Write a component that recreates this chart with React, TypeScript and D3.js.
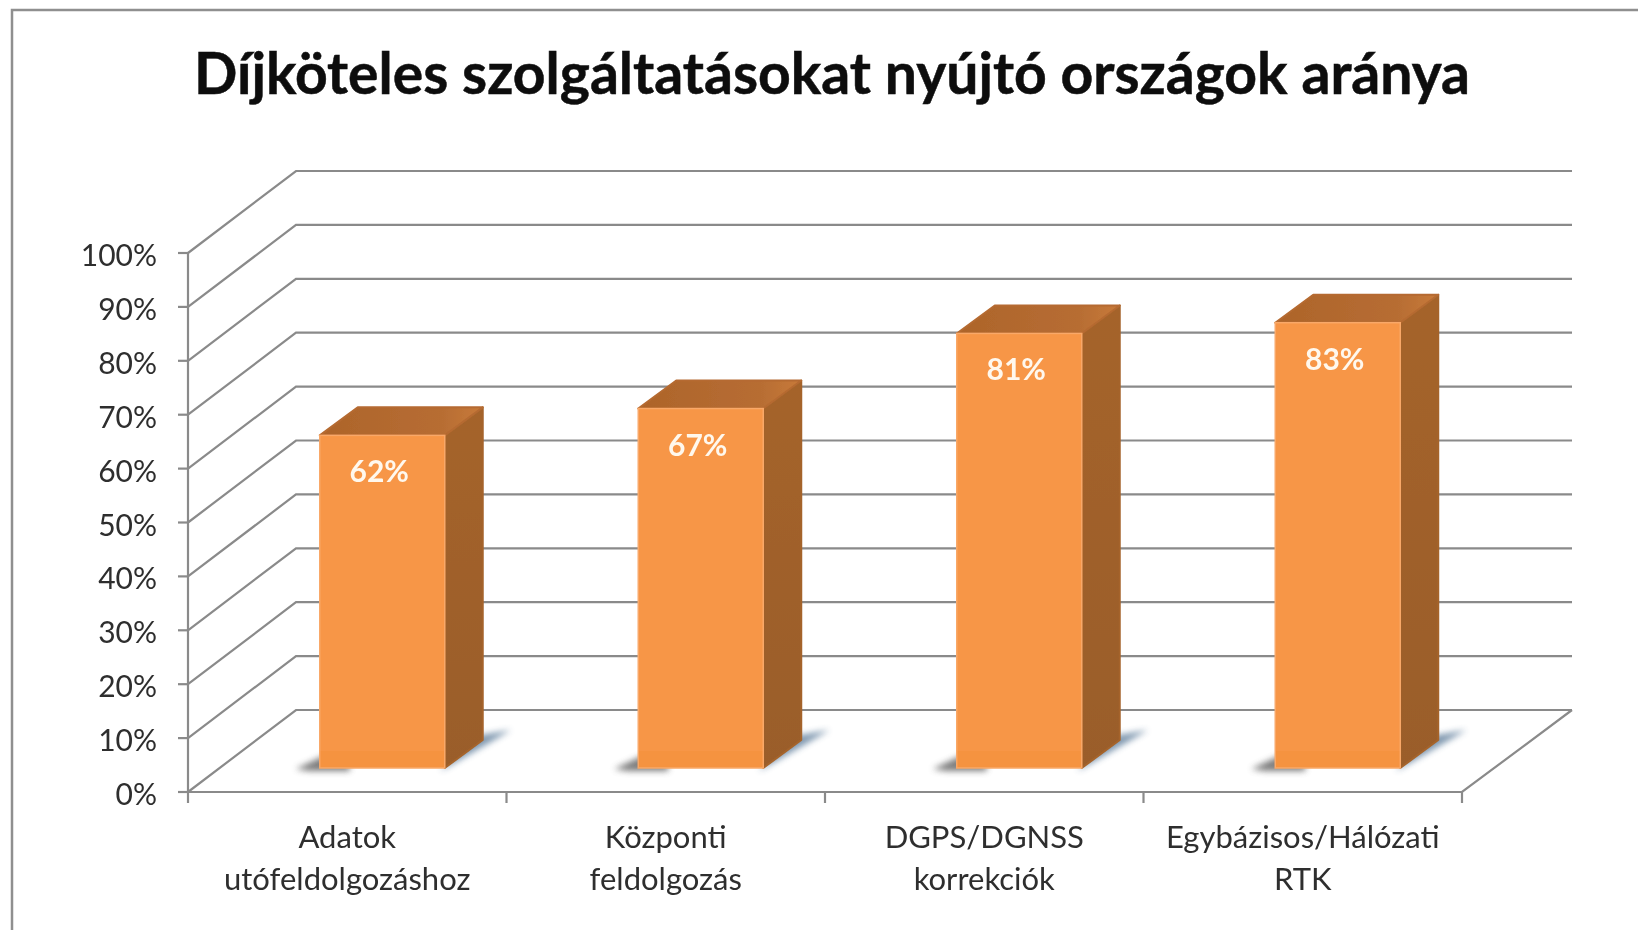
import React from "react";
import * as d3 from "d3";

const titleText = "Díjköteles szolgáltatásokat nyújtó országok aránya";
const categories = [
  ["Adatok", "utófeldolgozáshoz"],
  ["Központi", "feldolgozás"],
  ["DGPS/DGNSS", "korrekciók"],
  ["Egybázisos/Hálózati", "RTK"],
];
const values = [62, 67, 81, 83];
const ticks = [0, 10, 20, 30, 40, 50, 60, 70, 80, 90, 100];

const W = 1638, H = 930;
const depthX = 108, depthY = 82;
const y = d3.scaleLinear().domain([0, 100]).range([792, 253]);
const barY = d3.scaleLinear().domain([0, 100]).range([768, 231.5]);
const x = d3.scaleBand<number>().domain(categories.map((_, i) => i)).range([188, 1462]);
const barW = 125, barDx = 38, barDy = 28, barShift = 35;
const grid = "#8a8a8a";
const font = "Lato, Carlito, 'Open Sans', sans-serif";
const line = d3.line();

export default function App() {
  return (
    <svg width={W} height={H} style={{ position: "absolute", left: 0, top: 0, display: "block", background: "#fff" }}>
      <defs>
        <filter id="soft"><feGaussianBlur stdDeviation="0.55" /></filter>
        <filter id="shadow" filterUnits="userSpaceOnUse" x="0" y="0" width={W} height={H}><feGaussianBlur stdDeviation="3" /></filter>
        <linearGradient id="topFace" x1="0" x2="1" y1="0" y2="0">
          <stop offset="0" stopColor="#ad642a" />
          <stop offset="0.75" stopColor="#b76d33" />
          <stop offset="1" stopColor="#c87a3a" />
        </linearGradient>
        <linearGradient id="sideFace" x1="0" x2="0" y1="0" y2="1">
          <stop offset="0" stopColor="#a5642c" />
          <stop offset="1" stopColor="#9a5d29" />
        </linearGradient>
      </defs>
      <rect x={12} y={10} width={1640} height={950} fill="none" stroke="#8f8f8f" strokeWidth={2.5} filter="url(#soft)" />
      <text x={832} y={94} textAnchor="middle" fontFamily={font} fontWeight={700} fontSize={57} fill="#0c0c0c"
        stroke="#0c0c0c" strokeWidth={0.5} textLength={1276} lengthAdjust="spacingAndGlyphs" filter="url(#soft)">{titleText}</text>

      <g fill="none" stroke={grid} strokeWidth={2.2} filter="url(#soft)">
        {ticks.map((t) => (
          <path key={t} d={line([[188, y(t)], [188 + depthX, y(t) - depthY], [1572, y(t) - depthY]]) ?? ""} />
        ))}
        <path d={line([[188, y(0)], [188, y(100)]]) ?? ""} />
        <path d={line([[188, y(0)], [1462, y(0)], [1572, y(0) - depthY]]) ?? ""} />
        {ticks.map((t) => (
          <path key={t} d={line([[178, y(t)], [188, y(t)]]) ?? ""} />
        ))}
        {[0, 1, 2, 3].map((i) => (
          <path key={i} d={line([[x(i)!, y(0)], [x(i)!, y(0) + 11]]) ?? ""} />
        ))}
        <path d={line([[1462, y(0)], [1462, y(0) + 11]]) ?? ""} />
      </g>

      <g fontFamily={font} fill="#2f2f2f" filter="url(#soft)">
        {ticks.map((t) => (
          <text key={t} x={157} y={y(t) + 13} textAnchor="end" fontSize={30}>{t}%</text>
        ))}
        {categories.map((c, i) => (
          <text key={i} textAnchor="middle" fontSize={31}>
            {c.map((l, j) => (
              <tspan key={j} x={x(i)! + x.bandwidth() / 2} y={848 + j * 41.5}>{l}</tspan>
            ))}
          </text>
        ))}
      </g>

      {values.map((v, i) => {
        const l = x(i)! + x.bandwidth() / 2 + barShift - barW / 2;
        const r = l + barW;
        const b = barY(0);
        const t = barY(v);
        return (
          <g key={i}>
            <path d={line([[l - 24, b + 1], [l + 8, b - 14], [l + 30, b - 14], [l + 30, b + 3], [l - 10, b + 3]]) + "Z"} fill="#666" opacity={0.85} filter="url(#shadow)" />
            <path d={line([[r - 4, b + 3], [r + 66, b - 38], [r + 20, b - 30]]) + "Z"} fill="#6f8ba6" opacity={0.9} filter="url(#shadow)" />
            <g filter="url(#soft)">
              <path d={line([[r, t], [r + barDx, t - barDy], [r + barDx, b - barDy], [r, b]]) + "Z"} fill="url(#sideFace)" stroke="#a5642c" strokeWidth={2} strokeLinejoin="round" />
              <path d={line([[l, t], [l + barDx, t - barDy], [r + barDx, t - barDy], [r, t]]) + "Z"} fill="url(#topFace)" stroke="#b56a30" strokeWidth={2} strokeLinejoin="round" />
              <rect x={l} y={t} width={barW} height={b - t} fill="#f79646" stroke="#f9a868" strokeWidth={1.5} />
              <rect x={l + 1} y={b - 17} width={barW - 2} height={16} fill="#f59340" />
              <text x={l + barW / 2 - 3} y={t + 47} textAnchor="middle" fontFamily={font} fontWeight={700} fontSize={30} fill="#fff8ee">{v}%</text>
            </g>
          </g>
        );
      })}
    </svg>
  );
}
